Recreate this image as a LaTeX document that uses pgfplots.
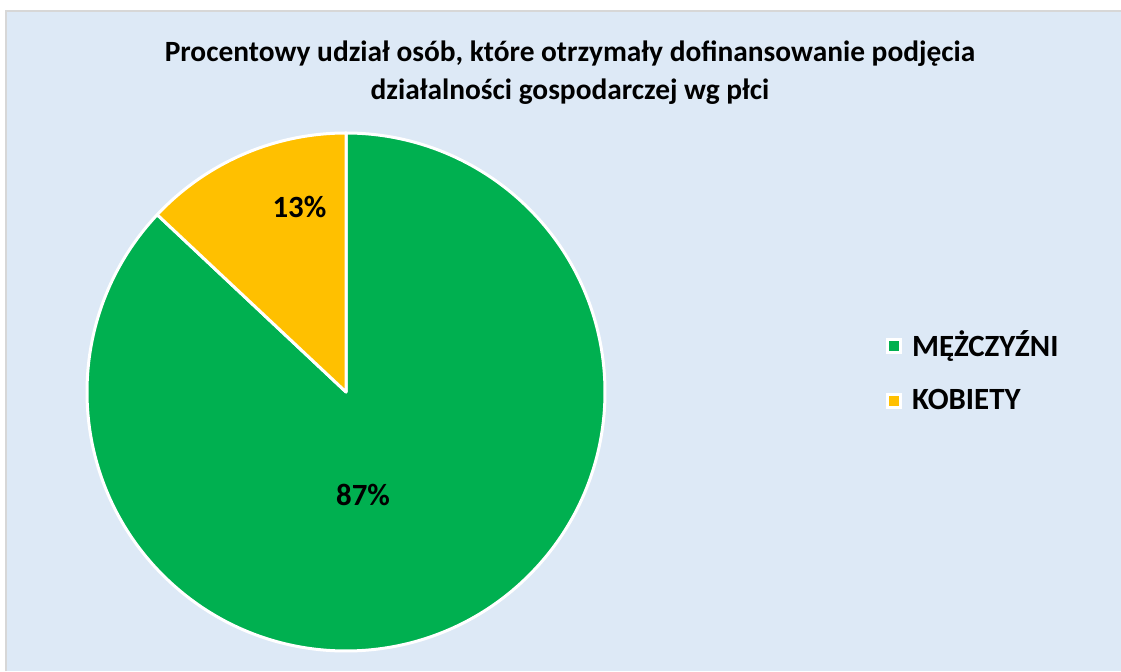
\documentclass[border=0pt]{standalone}
\usepackage{pgfplots}
\pgfplotsset{compat=1.18}
\usepackage{pgfplotstable}
\usepackage{fontspec}
\setmainfont{Carlito}
\definecolor{bgblue}{RGB}{221,233,246}
\definecolor{bordergray}{RGB}{215,215,215}
\definecolor{pgreen}{RGB}{0,176,80}
\definecolor{pyellow}{RGB}{255,192,0}
\pgfplotstableread{
label value
KOBIETY 13
MEZCZYZNI 87
}\piedata
\pgfplotstablegetelem{0}{value}\of\piedata \let\vK\pgfplotsretval
\pgfplotstablegetelem{1}{value}\of\piedata \let\vM\pgfplotsretval
\pgfmathsetmacro\angK{90+\vK*3.6}
\pgfmathsetmacro\angM{\angK+\vM*3.6}
\begin{document}
\begin{tikzpicture}
\begin{axis}[width=1121bp,height=671bp,scale only axis,
  xmin=0,xmax=1121,ymin=0,ymax=671,hide axis,clip=false]
\coordinate (ll) at (axis cs:0,0);
\coordinate (ur) at (axis cs:1121,671);
\fill[white] (axis cs:0,0) rectangle (axis cs:1121,671);
\fill[bgblue] (axis cs:6,0) rectangle (axis cs:1121,660);
\draw[bordergray,line width=2bp] (axis cs:6,0) -- (axis cs:6,660) -- (axis cs:1121,660);
% pie
\filldraw[fill=pgreen,draw=white,line width=3bp,line join=round]
  (axis cs:346,279) -- ++(\angK:259bp) arc[start angle=\angK,end angle=\angM,radius=259bp] -- cycle;
\filldraw[fill=pyellow,draw=white,line width=3bp,line join=round]
  (axis cs:346,279) -- ++(90:259bp) arc[start angle=90,end angle=\angK,radius=259bp] -- cycle;
\node[font=\fontsize{31}{34}\selectfont\bfseries,anchor=base,inner sep=0pt] at (axis cs:299.5,453) {13\%};
\node[font=\fontsize{31}{34}\selectfont\bfseries,anchor=base,inner sep=0pt] at (axis cs:363,166) {87\%};
% title
\node[font=\fontsize{29.5}{32}\selectfont\bfseries,anchor=base,inner sep=0pt] at (axis cs:570,609) {Procentowy udział osób, które otrzymały dofinansowanie podjęcia};
\node[font=\fontsize{29.5}{32}\selectfont\bfseries,anchor=base,inner sep=0pt] at (axis cs:570,571.5) {działalności gospodarczej wg płci};
% legend
\filldraw[fill=pgreen,draw=white,line width=3bp] (axis cs:887,318) rectangle (axis cs:900,331);
\filldraw[fill=pyellow,draw=white,line width=3bp] (axis cs:887,263) rectangle (axis cs:900,276);
\node[font=\fontsize{31}{34}\selectfont\bfseries,anchor=base west,inner sep=0pt] at (axis cs:912,314) {MĘŻCZYŹNI};
\node[font=\fontsize{31}{34}\selectfont\bfseries,anchor=base west,inner sep=0pt] at (axis cs:912,261) {KOBIETY};
\end{axis}
\pgfresetboundingbox
\path[use as bounding box] (ll) rectangle (ur);
\end{tikzpicture}
\end{document}
